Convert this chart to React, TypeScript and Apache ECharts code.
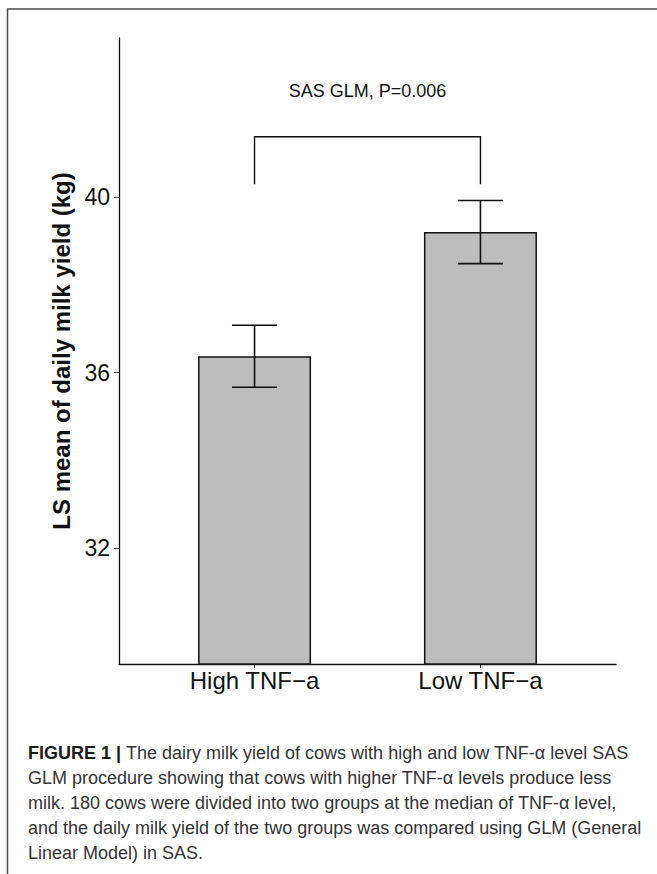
import React, { useEffect, useRef } from "react";
import * as echarts from "echarts";

const categories = ["High TNF−a", "Low TNF−a"];
const categoryPositions = [1, 2];
const means = [36.37, 39.2];
const standardErrors = [0.705, 0.72];
const yTickValues = [32, 36, 40];
const bracketEnds = [1, 2];
const bracketLegBottom = 40.29;
const bracketTop = 41.37;
const annotationText = "SAS GLM, P=0.006";
const annotationValue = 42.42;
const yAxisTitle = "LS mean of daily milk yield (kg)";
const captionBold = "FIGURE 1 | ";
const captionLines = [
  "The dairy milk yield of cows with high and low TNF-α level SAS",
  "GLM procedure showing that cows with higher TNF-α levels produce less",
  "milk. 180 cows were divided into two groups at the median of TNF-α level,",
  "and the daily milk yield of the two groups was compared using GLM (General",
  "Linear Model) in SAS.",
];

const FONT = "'Liberation Sans', Arial, Helvetica, sans-serif";

export default function App() {
  const ref = useRef<HTMLDivElement>(null);
  useEffect(() => {
    if (!ref.current) return;
    const chart = echarts.init(ref.current, undefined, { renderer: "svg" });
    const barData = categoryPositions.map((x, i) => [x, means[i]]);
    const errData = categoryPositions.map((x, i) => [x, means[i], standardErrors[i]]);
    const captionText =
      "{b|" + captionBold + "}{r|" + captionLines[0] + "}\n" +
      captionLines.slice(1).map((l) => "{r|" + l + "}").join("\n");
    chart.setOption({
      animation: false,
      backgroundColor: "#ffffff",
      grid: { left: 119, top: 38, width: 497, height: 626, containLabel: false },
      xAxis: {
        type: "value",
        min: 0.4,
        max: 2.6,
        axisLine: { show: true, lineStyle: { color: "#111", width: 1.3 } },
        axisTick: { show: true, customValues: categoryPositions, length: 4, lineStyle: { color: "#333", width: 1 } },
        axisLabel: {
          show: true,
          customValues: categoryPositions,
          formatter: (v: number) => categories[Math.round(v) - 1] ?? "",
          fontSize: 24,
          fontFamily: FONT,
          color: "#111",
          margin: 4,
        },
        splitLine: { show: false },
      },
      yAxis: {
        type: "value",
        min: 29.36,
        max: 43.62,
        name: yAxisTitle,
        nameLocation: "middle",
        nameRotate: 90,
        nameGap: 43,
        nameTextStyle: { fontSize: 24, fontWeight: "bold", fontFamily: FONT, color: "#111" },
        axisLine: { show: true, lineStyle: { color: "#111", width: 1.3 } },
        axisTick: { show: true, customValues: yTickValues, length: 5, lineStyle: { color: "#333", width: 1 } },
        axisLabel: {
          show: true,
          customValues: yTickValues,
          fontSize: 23,
          fontFamily: FONT,
          color: "#111",
          margin: 9,
        },
        splitLine: { show: false },
      },
      series: [
        {
          type: "bar",
          data: barData,
          barWidth: 113,
          z: 2,
          itemStyle: { color: "#bdbdbd", borderColor: "#111", borderWidth: 1.5 },
          clip: true,
        },
        {
          type: "custom",
          data: errData,
          z: 10,
          renderItem: (params: any, api: any) => {
            const x = api.value(0);
            const m = api.value(1);
            const s = api.value(2);
            const top = api.coord([x, m + s]);
            const bot = api.coord([x, m - s]);
            const capL = api.coord([x - 0.1, m + s]);
            const capR = api.coord([x + 0.1, m + s]);
            const capLb = api.coord([x - 0.1, m - s]);
            const capRb = api.coord([x + 0.1, m - s]);
            const st = { stroke: "#111", lineWidth: 1.6 };
            return {
              type: "group",
              children: [
                { type: "line", shape: { x1: top[0], y1: top[1], x2: bot[0], y2: bot[1] }, style: st },
                { type: "line", shape: { x1: capL[0], y1: capL[1], x2: capR[0], y2: capR[1] }, style: st },
                { type: "line", shape: { x1: capLb[0], y1: capLb[1], x2: capRb[0], y2: capRb[1] }, style: st },
              ],
            };
          },
        },
        {
          type: "custom",
          data: [[bracketEnds[0], bracketEnds[1], bracketLegBottom, bracketTop, annotationValue]],
          z: 10,
          renderItem: (params: any, api: any) => {
            const a = api.value(0);
            const b = api.value(1);
            const lo = api.value(2);
            const hi = api.value(3);
            const ty = api.value(4);
            const p1 = api.coord([a, lo]);
            const p2 = api.coord([a, hi]);
            const p3 = api.coord([b, hi]);
            const p4 = api.coord([b, lo]);
            const t = api.coord([(a + b) / 2, ty]);
            return {
              type: "group",
              children: [
                {
                  type: "polyline",
                  shape: { points: [p1, p2, p3, p4] },
                  style: { stroke: "#111", lineWidth: 1.4, fill: "none" },
                },
                {
                  type: "text",
                  x: t[0],
                  y: t[1],
                  style: {
                    text: annotationText,
                    align: "center",
                    verticalAlign: "middle",
                    fontSize: 18,
                    fontFamily: FONT,
                    fill: "#111",
                  },
                },
              ],
            };
          },
        },
      ],
      graphic: [
        {
          type: "polyline",
          shape: { points: [[7.5, 880], [7.5, 9], [700, 9]] },
          style: { stroke: "#4a4a4a", lineWidth: 1.5, fill: "none" },
          silent: true,
        },
        {
          type: "text",
          x: 28,
          y: 740,
          style: {
            text: captionText,
            fontFamily: FONT,
            fontSize: 18,
            lineHeight: 25,
            fill: "#2b2b2b",
            rich: {
              b: { fontWeight: "bold", fontSize: 18, fontFamily: FONT, fill: "#1a1a1a", lineHeight: 25 },
              r: { fontSize: 18, fontFamily: FONT, fill: "#333333", lineHeight: 25 },
            },
          },
        },
      ],
    });
    return () => chart.dispose();
  }, []);
  return (
    <div
      ref={ref}
      style={{ position: "absolute", left: 0, top: 0, width: 657, height: 874, background: "#fff" }}
    />
  );
}
